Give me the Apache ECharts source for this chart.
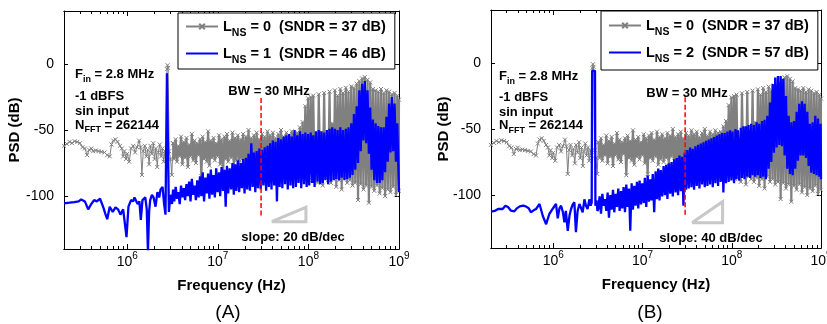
<!DOCTYPE html>
<html>
<head>
<meta charset="utf-8">
<title>PSD comparison</title>
<script src="https://cdn.jsdelivr.net/npm/echarts@6.0.0/dist/echarts.min.js"></script>
<style>
html,body{margin:0;padding:0;background:#ffffff;}
#chart{width:827px;height:324px;}
</style>
</head>
<body>
<div id="chart"></div>
<script>
// ---------------- data (frequency in MHz, PSD in dB) ----------------
const X_MAJOR_TICKS = [1e6, 1e7, 1e8, 1e9];
const X_MINOR_TICKS = [3e5,4e5,5e5,6e5,7e5,8e5,9e5, 2e6,3e6,4e6,5e6,6e6,7e6,8e6,9e6,
  2e7,3e7,4e7,5e7,6e7,7e7,8e7,9e7, 2e8,3e8,4e8,5e8,6e8,7e8,8e8,9e8];
const Y_TICKS = [-100, -50, 0];
const LEGEND_LNS = {L0: '0', L1: '1', L2: '2'};
const LEGEND_SNDR = {L0: '37', L1: '46', L2: '57'};
const BW_LINE_A = [[30, -25.8], [30, -115.8]];
const BW_LINE_B = [[30, -26], [30, -116]];
const SLOPE_TRI_A = [[39.3, -119.3], [93.8, -119.3], [93.8, -108.5], [39.3, -119.3]];
const SLOPE_TRI_B = [[35.8, -120.9], [78.8, -120.9], [78.8, -105], [35.8, -120.9]];

// low-frequency part, [MHz, dB]
const GRAY_LO = [[0.2,-62],[0.215,-60.5],[0.23,-59],[0.245,-60],[0.262,-58.5],[0.28,-59],[0.3,-60],[0.32,-63],
  [0.34,-64],[0.36,-69],[0.38,-65],[0.4,-64],[0.42,-66],[0.45,-65.5],[0.48,-66],[0.52,-66.5],[0.56,-67],
  [0.6,-69],[0.64,-70],[0.67,-61],[0.7,-58],[0.74,-57],[0.78,-59],[0.83,-62],[0.87,-64],[0.9,-70],[0.93,-66],
  [0.97,-72],[1.0,-68],[1.05,-74],[1.1,-64],[1.16,-62],[1.22,-67],[1.28,-63],[1.35,-58],[1.4,-63],[1.45,-84],
  [1.5,-66],[1.56,-62],[1.62,-70],[1.68,-65],[1.74,-76],[1.8,-62],[1.87,-68],[1.94,-60],[2.0,-72],[2.07,-64],
  [2.14,-78],[2.2,-67],[2.28,-61],[2.36,-70],[2.44,-64],[2.52,-74],[2.6,-66],[2.68,-70],[2.74,-4],[2.78,-1],
  [2.82,-3],[2.9,-66],[3.0,-72],[3.1,-84]];
const BLUE1_LO = [[0.2,-105.5],[0.23,-105],[0.26,-104.5],[0.29,-104],[0.31,-102.5],[0.34,-104],[0.37,-110],
  [0.4,-106],[0.43,-103],[0.46,-104],[0.5,-102],[0.54,-108],[0.57,-113],[0.6,-117.5],[0.64,-108],[0.69,-112],
  [0.74,-108.5],[0.79,-110],[0.84,-114],[0.9,-110],[0.94,-109],[0.98,-131],[1.03,-108],[1.1,-103],[1.16,-104],
  [1.2,-101],[1.25,-100],[1.3,-106],[1.36,-104],[1.41,-118],[1.47,-103],[1.52,-104],[1.58,-101],[1.64,-110],
  [1.69,-142],[1.74,-112],[1.79,-103],[1.87,-99],[1.95,-101],[2.05,-108],[2.15,-97],[2.25,-101],[2.33,-95],
  [2.45,-93],[2.55,-106],[2.64,-114],[2.74,-7],[2.78,-7],[2.88,-112],[2.95,-104],[3.05,-99],[3.12,-106]];
const BLUE2_LO = [[0.2,-112.5],[0.22,-112],[0.24,-110.5],[0.27,-110.5],[0.29,-108],[0.31,-109],[0.335,-111.8],
  [0.365,-112.3],[0.39,-110],[0.42,-108.5],[0.46,-108],[0.49,-108.5],[0.53,-110],[0.56,-113],[0.6,-111.5],
  [0.64,-110.5],[0.7,-106.7],[0.76,-115.6],[0.83,-122],[0.9,-114.4],[0.98,-110.5],[1.07,-106.7],[1.12,-117.6],
  [1.17,-110],[1.22,-108],[1.28,-113],[1.33,-120.6],[1.38,-112],[1.45,-127],[1.52,-115],[1.58,-110.5],
  [1.65,-107],[1.72,-105.4],[1.79,-128],[1.87,-112],[1.96,-106.7],[2.05,-110],[2.13,-113],[2.23,-103.2],
  [2.32,-108],[2.42,-110.5],[2.53,-103.2],[2.62,-108],[2.69,-105.5],[2.72,-6],[2.93,-6],[2.96,-108],
  [3.05,-104],[3.12,-112]];

// dense part: shared frequency list (MHz) and the PSD read for each curve
const FREQ_HI = [
  3.2,3.3,3.42,3.54,3.66,3.79,3.92,4.06,4.2,4.35,
  4.5,4.66,4.82,4.99,5.16,5.34,5.53,5.72,5.92,6.13,
  6.35,6.57,6.8,7.04,7.28,7.54,7.8,8.07,8.36,8.65,
  8.95,9.26,9.59,9.92,10.3,10.6,11,11.4,11.8,12.2,
  12.6,13,13.5,14,14.5,15,15.5,16,16.6,17.2,
  17.8,18.4,19,19.7,20.4,21.1,21.8,22.6,23.4,24.2,
  25,25.9,26.8,27.7,28.7,29.7,30.7,31.8,32.9,34.1,
  35.3,36.5,37.8,39.1,40.5,41.9,43.4,44.9,46.5,48.1,
  49.8,51.5,53.3,55.2,57.1,59.1,61.2,63.3,65.5,67.8,
  70.2,72.7,75.2,77.8,80.5,83.3,86.2,89.3,92.4,95.6,
  99,102,106,110,113,117,121,126,130,135,
  139,144,149,154,160,165,171,177,183,190,
  196,203,210,218,225,233,241,250,259,268,
  277,287,297,307,318,329,341,353,365,378,
  391,405,419,434,449,465,481,498,515,533,
  552,571,591,612,633,655,678,702,727,752,
  778,806,834,863,893,925,957,990,1000];
const GRAY_HI = [
  -60,-72,-57,-74,-62,-70,-55,-76,-59,-71,
  -56,-78,-61,-70,-53,-73,-58,-75,-60,-69,
  -57,-85,-55,-72,-59,-74,-51,-77,-58,-71,
  -56,-73,-60,-70,-54,-76,-57,-84,-55,-72,
  -53,-74,-58,-71,-52,-77,-56,-73,-54,-75,
  -57,-72,-53,-78,-55,-71,-50,-74,-56,-87,
  -54,-73,-52,-76,-57,-72,-53,-75,-55,-79,
  -51,-73,-54,-77,-52,-74,-56,-78,-53,-72,
  -50,-76,-55,-73,-52,-79,-54,-75,-51,-77,
  -53,-74,-52,-78,-48,-80,-44,-84,-32,-86,
  -26,-82,-25,-88,-24,-85,-58,-90,-23,-84,
  -52,-92,-22,-86,-60,-88,-21,-90,-45,-87,
  -20,-93,-24,-88,-19,-95,-22,-86,-18,-90,
  -21,-88,-17,-92,-18,-90,-15,-103,-13,-91,
  -11,-95,-10,-92,-12,-105,-14,-93,-19,-96,
  -20,-92,-21,-98,-19,-94,-22,-100,-20,-95,
  -21,-97,-23,-93,-22,-99,-24,-96,-27];
const BLUE1_HI = [
  -95,-104,-93,-102,-97,-106,-92,-101,-94,-103,
  -91,-100,-89,-104,-87,-99,-92,-103,-88,-101,
  -85,-100,-82,-104,-86,-98,-83,-102,-80,-99,
  -84,-101,-79,-97,-82,-100,-78,-96,-80,-108,
  -77,-98,-79,-95,-75,-99,-76,-96,-73,-97,
  -75,-94,-72,-98,-71,-95,-68,-96,-60,-93,
  -67,-97,-66,-94,-64,-95,-65,-92,-63,-96,
  -62,-93,-60,-95,-58,-92,-59,-104,-56,-93,
  -57,-94,-55,-91,-54,-95,-53,-92,-55,-94,
  -50,-93,-54,-90,-51,-94,-53,-91,-52,-93,
  -53,-92,-52,-90,-54,-93,-51,-89,-50,-91,
  -51,-90,-52,-88,-50,-91,-49,-89,-48,-88,
  -49,-87,-50,-88,-48,-86,-50,-88,-49,-87,
  -48,-86,-45,-84,-38,-80,-32,-75,-20,-66,
  -15,-58,-13,-60,-20,-68,-33,-80,-42,-88,
  -45,-90,-47,-90,-48,-88,-48,-82,-40,-74,
  -30,-67,-25,-66,-30,-74,-45,-85,-97];
const BLUE2_HI = [
  -110,-101,-114,-99,-108,-103,-112,-98,-117,-100,
  -111,-96,-113,-99,-109,-95,-112,-97,-110,-94,
  -113,-92,-109,-95,-127,-91,-111,-93,-108,-90,
  -110,-89,-107,-91,-106,-87,-109,-85,-105,-88,
  -104,-84,-113,-82,-103,-80,-104,-81,-101,-78,
  -100,-77,-103,-76,-99,-75,-101,-73,-98,-72,
  -100,-70,-97,-71,-108,-68,-96,-66,-95,-64,
  -94,-65,-96,-63,-93,-62,-95,-61,-92,-60,
  -94,-59,-93,-58,-92,-57,-94,-56,-91,-55,
  -93,-54,-90,-53,-98,-53,-91,-52,-90,-51,
  -89,-52,-91,-50,-88,-51,-89,-49,-87,-48,
  -88,-48,-86,-47,-87,-46,-85,-47,-86,-45,
  -85,-46,-87,-44,-86,-43,-88,-40,-80,-30,
  -75,-16,-68,-11,-64,-10,-62,-10,-63,-12,
  -70,-25,-80,-40,-84,-45,-85,-44,-80,-37,
  -74,-31,-70,-29,-70,-31,-72,-37,-78,-46,
  -83,-45,-84,-40,-85,-42,-86,-46,-88];

// ---------------- build ----------------
const FONT = "'Liberation Sans', Arial, Helvetica, sans-serif";
const MHZ = 1e6;
const toHz = pairs => pairs.map(p => [p[0] * MHZ, p[1]]);
const hiHz = vals => FREQ_HI.map((f, i) => [f * MHZ, vals[i]]);
const grayLoData = toHz(GRAY_LO).concat(hiHz(GRAY_HI).slice(0, 1));
const grayHiData = hiHz(GRAY_HI);
const blue1Data = toHz(BLUE1_LO).concat(hiHz(BLUE1_HI));
const blue2Data = toHz(BLUE2_LO).concat(hiHz(BLUE2_HI));
const X_SYMBOL = 'path://M0,0L10,10M10,0L0,10';

const GRIDS = [
  {left: 64, top: 11, width: 335, height: 238},
  {left: 491, top: 10, width: 330, height: 238}
];

function xAxisDef(gi, pos, major, withLabel) {
  const ax = {
    type: 'log', logBase: 10, gridIndex: gi, position: pos, min: 2e5, max: 1e9,
    axisLine: {show: true, onZero: false, lineStyle: {color: '#000', width: 1}},
    axisTick: {show: true, inside: true, length: major ? 5 : 3,
      customValues: major ? X_MAJOR_TICKS : X_MINOR_TICKS, lineStyle: {color: '#000', width: 1}},
    axisLabel: {show: false},
    splitLine: {show: false}, minorTick: {show: false}, minorSplitLine: {show: false},
    silent: true
  };
  if (withLabel) {
    ax.axisLabel = {
      show: true, customValues: X_MAJOR_TICKS, margin: 5,
      formatter: v => '{b|10}{p|' + Math.round(Math.log10(v)) + '}',
      rich: {
        b: {fontSize: 14, fontFamily: FONT, color: '#000', lineHeight: 16},
        p: {fontSize: 10, fontFamily: FONT, color: '#000', lineHeight: 10, padding: [0, 0, 11, 0]}
      }
    };
    ax.name = 'Frequency (Hz)';
    ax.nameLocation = 'middle';
    ax.nameGap = 29;
    ax.nameMoveOverlap = false;
    ax.nameTextStyle = {fontSize: 15, fontWeight: 'bold', fontFamily: FONT, color: '#000'};
  }
  return ax;
}
function yAxisDef(gi, pos, withLabel, gap) {
  const ax = {
    type: 'value', gridIndex: gi, position: pos, min: -140, max: 40,
    axisLine: {show: true, onZero: false, lineStyle: {color: '#000', width: 1}},
    axisTick: {show: true, inside: true, length: 4, customValues: Y_TICKS, lineStyle: {color: '#000', width: 1}},
    axisLabel: {show: false},
    splitLine: {show: false},
    silent: true
  };
  if (withLabel) {
    ax.axisLabel = {show: true, customValues: Y_TICKS, margin: 10, fontSize: 14, fontFamily: FONT, color: '#000'};
    ax.name = 'PSD (dB)';
    ax.nameLocation = 'middle';
    ax.nameRotate = 90;
    ax.nameGap = gap;
    ax.nameMoveOverlap = false;
    ax.nameTextStyle = {fontSize: 15, fontWeight: 'bold', fontFamily: FONT, color: '#000'};
  }
  return ax;
}

const xAxes = [];
const yAxes = [];
[0, 1].forEach(gi => {
  xAxes.push(xAxisDef(gi, 'bottom', true, true));
  xAxes.push(xAxisDef(gi, 'bottom', false, false));
  xAxes.push(xAxisDef(gi, 'top', true, false));
  xAxes.push(xAxisDef(gi, 'top', false, false));
  yAxes.push(yAxisDef(gi, 'left', true, gi === 0 ? 42 : 40));
  yAxes.push(yAxisDef(gi, 'right', false, 0));
});

function graySeries(data, width, xi, yi) {
  return {type: 'line', name: 'L0', xAxisIndex: xi, yAxisIndex: yi, data: data,
    symbol: X_SYMBOL, symbolSize: 4, showSymbol: true, showAllSymbol: true,
    lineStyle: {color: '#808080', width: width, join: 'bevel'},
    itemStyle: {color: '#808080', borderColor: '#808080', borderWidth: 1},
    z: 2, silent: true, animation: false};
}
function blueSeries(name, data, xi, yi) {
  return {type: 'line', name: name, xAxisIndex: xi, yAxisIndex: yi, data: data,
    symbol: 'none', showSymbol: false,
    lineStyle: {color: '#0000ff', width: 2.3, join: 'bevel'}, itemStyle: {color: '#0000ff'},
    z: 3, silent: true, animation: false};
}
function plainLine(data, xi, yi, style, z) {
  return {type: 'line', xAxisIndex: xi, yAxisIndex: yi, data: toHz(data), symbol: 'none',
    showSymbol: false, lineStyle: style, z: z, silent: true, animation: false};
}

const LEG_RICH = {
  m: {fontSize: 14.5, fontWeight: 'bold', fontFamily: FONT, color: '#000', lineHeight: 16},
  s: {fontSize: 10.5, fontWeight: 'bold', fontFamily: FONT, color: '#000', lineHeight: 10, padding: [14, 0, 0, 0]}
};
function legendDef(left, top, pad, blueName) {
  return {
    show: true, orient: 'vertical', left: left, top: top, selectedMode: false,
    padding: pad, itemGap: 2, itemWidth: 32, itemHeight: 7,
    borderColor: '#000', borderWidth: 1, backgroundColor: '#fff',
    data: [{name: 'L0'}, {name: blueName, itemStyle: {opacity: 0, color: 'rgba(0,0,0,0)', borderWidth: 0}}],
    formatter: n => '{m|L}{s|NS}{m| = ' + LEGEND_LNS[n] + '  (SNDR = ' + LEGEND_SNDR[n] + ' dB)}',
    textStyle: {fontSize: 14.5, fontWeight: 'bold', fontFamily: FONT, color: '#000', rich: LEG_RICH}
  };
}

const ANN_RICH = {
  m: {fontSize: 13, fontWeight: 'bold', fontFamily: FONT, fill: '#000', color: '#000', lineHeight: 15},
  s: {fontSize: 9, fontWeight: 'bold', fontFamily: FONT, fill: '#000', color: '#000', lineHeight: 9, padding: [10, 0, 0, 0]}
};
const ANN_LINES = ['{m|F}{s|in}{m| = 2.8 MHz}', '{m|-1 dBFS}', '{m|sin input}', '{m|N}{s|FFT}{m| = 262144}'];
function txt(x, y, text, opts) {
  const st = Object.assign({text: text, align: 'left', verticalAlign: 'middle',
    textAlign: 'left', textVerticalAlign: 'middle', fill: '#000'}, opts || {});
  return {type: 'text', x: x, y: y, z: 100, silent: true, style: st};
}
const graphics = [];
[[75, [74.5, 96, 111, 125]], [499, [76.5, 97.5, 112.5, 125.5]]].forEach(([x, ys]) => {
  ANN_LINES.forEach((t, i) => graphics.push(txt(x, ys[i], t, {rich: ANN_RICH})));
});
const boldFont = s => 'bold ' + s + 'px ' + FONT;
graphics.push(txt(269, 91, 'BW = 30 MHz', {font: boldFont(13), align: 'center', textAlign: 'center'}));
graphics.push(txt(687, 93, 'BW = 30 MHz', {font: boldFont(13), align: 'center', textAlign: 'center'}));
graphics.push(txt(293, 237, 'slope: 20 dB/dec', {font: boldFont(13), align: 'center', textAlign: 'center'}));
graphics.push(txt(711, 238, 'slope: 40 dB/dec', {font: boldFont(13), align: 'center', textAlign: 'center'}));
graphics.push(txt(228, 313, '(A)', {font: '19px ' + FONT, align: 'center', textAlign: 'center'}));
graphics.push(txt(650, 313, '(B)', {font: '19px ' + FONT, align: 'center', textAlign: 'center'}));

const redStyle = {color: '#ff0000', width: 1.5, type: [5, 2.5]};
const triStyle = {color: '#c8c8c8', width: 3, join: 'miter'};

const option = {
  animation: false,
  backgroundColor: '#ffffff',
  grid: GRIDS.map(g => Object.assign({containLabel: false, outerBoundsMode: 'none'}, g)),
  xAxis: xAxes,
  yAxis: yAxes,
  legend: [legendDef(178, 13, [1, 9, 3, 7], 'L1'), legendDef(601, 11, [2, 9, 5, 7], 'L2')],
  series: [
    graySeries(grayLoData, 1, 0, 0),
    graySeries(grayHiData, 2.2, 0, 0),
    blueSeries('L1', blue1Data, 0, 0),
    plainLine(BW_LINE_A, 0, 0, redStyle, 5),
    plainLine(SLOPE_TRI_A, 0, 0, triStyle, 5),
    graySeries(grayLoData, 1, 4, 2),
    graySeries(grayHiData, 2.2, 4, 2),
    blueSeries('L2', blue2Data, 4, 2),
    plainLine(BW_LINE_B, 4, 2, redStyle, 5),
    plainLine(SLOPE_TRI_B, 4, 2, triStyle, 5)
  ],
  graphic: graphics
};
const chart = echarts.init(document.getElementById('chart'), null, {renderer: 'canvas', width: 827, height: 324});
chart.setOption(option);
</script>
</body>
</html>
